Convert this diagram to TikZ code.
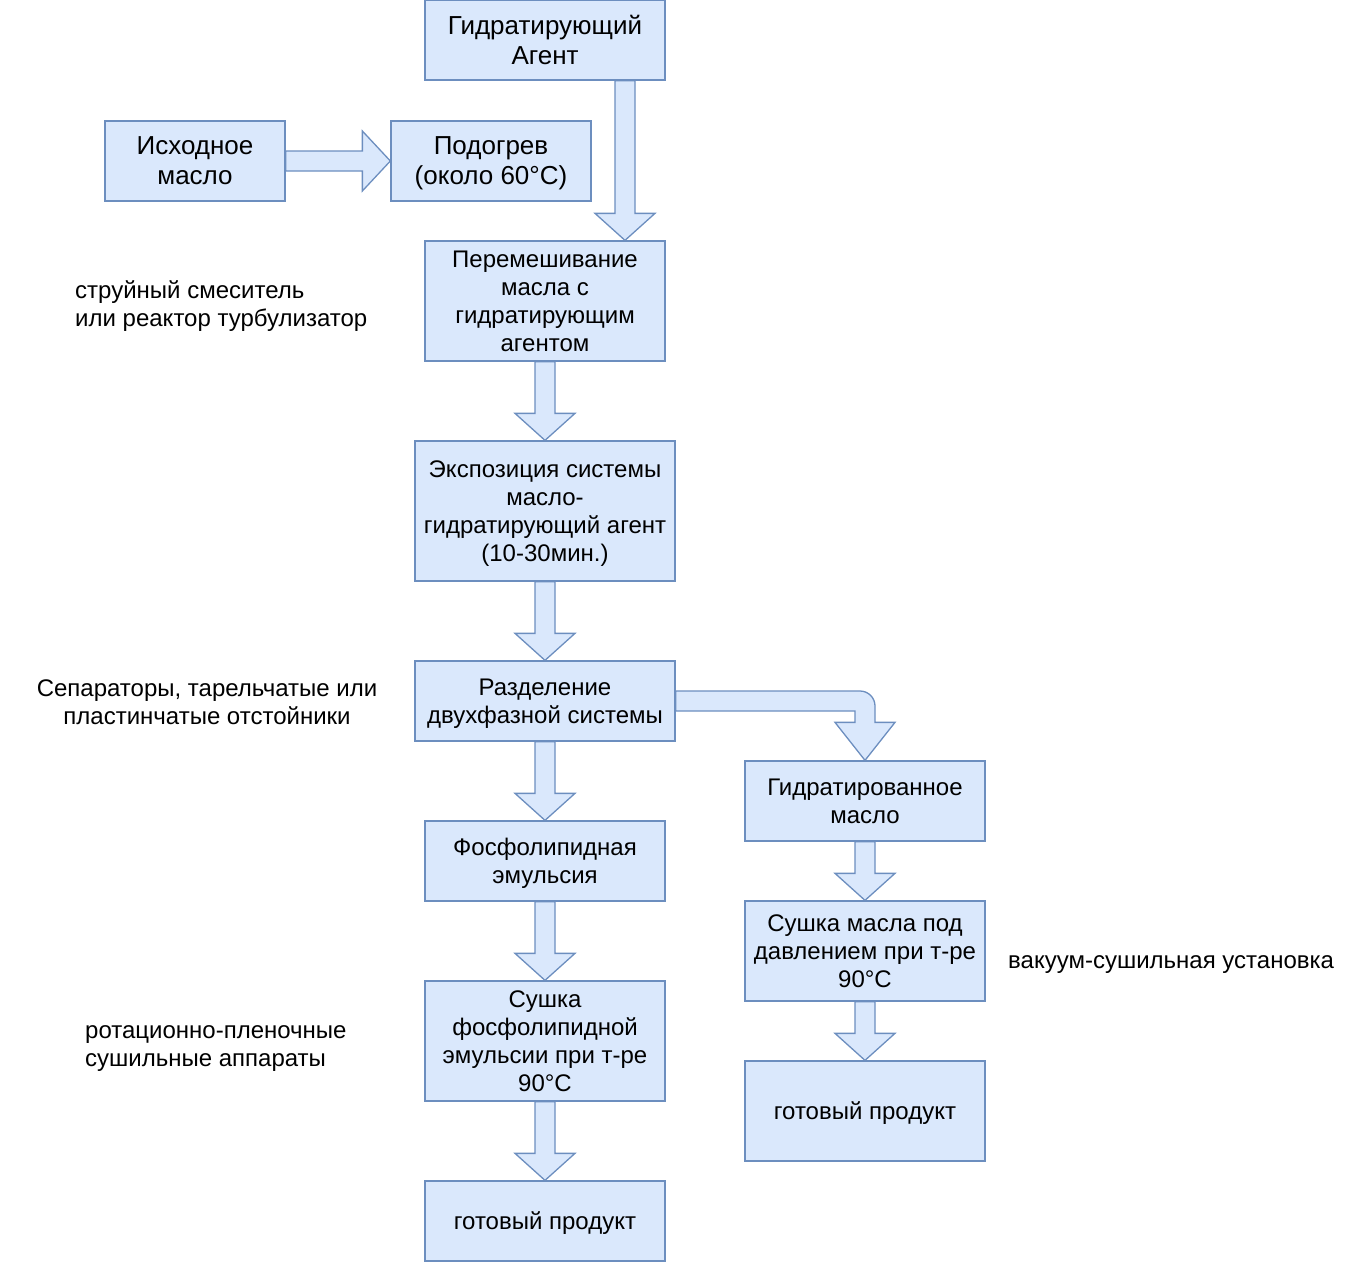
\documentclass[tikz,border=0pt]{standalone}
\usepackage{fontspec}
\setmainfont{Liberation Sans}
\usetikzlibrary{calc}
\definecolor{boxfill}{HTML}{DAE8FC}
\definecolor{boxline}{HTML}{6C8EBF}
\tikzset{box/.style = {draw = boxline, fill = boxfill, line width = 1.3pt, inner sep = 0, align = center, font = \fontsize{24}{28}\selectfont, text depth = -2pt},
  bigbox/.style = {box, font = \fontsize{26}{30}\selectfont, text depth = -7pt},
  note/.style = {inner sep = 0, font = \fontsize{24}{28}\selectfont},
  flow/.style = {draw = boxline, fill = boxfill, line width = 1.3pt, line join = miter}}
% block arrows between two points
\newcommand{\vflow}[2]{\draw [flow] let \p1 = (#1), \p2 = (#2) in
  (\x1-10pt, \y1) -- (\x1+10pt, \y1) -- (\x1+10pt, \y2+27pt) -- (\x1+30pt, \y2+27pt)
  -- (\x1, \y2) -- (\x1-30pt, \y2+27pt) -- (\x1-10pt, \y2+27pt) -- cycle;}
\newcommand{\hflow}[2]{\draw [flow] let \p1 = (#1), \p2 = (#2) in
  (\x1, \y1+10pt) -- (\x2-28pt, \y1+10pt) -- (\x2-28pt, \y1+30pt) -- (\x2, \y1)
  -- (\x2-28pt, \y1-30pt) -- (\x2-28pt, \y1-10pt) -- (\x1, \y1-10pt) -- cycle;}

\begin{document}
\begin{tikzpicture}[x = 1pt, y = -1pt]
    \useasboundingbox (0, 0) rectangle (1366, 1262);

    \node [bigbox, minimum width = 240pt, minimum height = 80pt] (agent) at (545, 40) {Гидратирующий\\Агент};
    \node [bigbox, minimum width = 180pt, minimum height = 80pt] (oil) at (195, 161) {Исходное\\масло};
    \node [bigbox, minimum width = 200pt, minimum height = 80pt] (heat) at (491, 161) {Подогрев\\(около 60°C)};
    \node [box, minimum width = 240pt, minimum height = 120pt] (mix) at (545, 301) {Перемешивание\\масла с\\гидратирующим\\агентом};
    \node [box, minimum width = 260pt, minimum height = 140pt] (expo) at (545, 511) {Экспозиция системы\\масло-\\гидратирующий агент\\(10-30мин.)};
    \node [box, minimum width = 260pt, minimum height = 80pt] (sep) at (545, 701) {Разделение\\двухфазной системы};
    \node [box, minimum width = 240pt, minimum height = 80pt] (emul) at (545, 861) {Фосфолипидная\\эмульсия};
    \node [box, minimum width = 240pt, minimum height = 120pt] (dryph) at (545, 1041) {Сушка\\фосфолипидной\\эмульсии при т-ре\\90°C};
    \node [box, minimum width = 240pt, minimum height = 80pt] (prod1) at (545, 1221) {готовый продукт};
    \node [box, minimum width = 240pt, minimum height = 80pt] (hydr) at (865, 801) {Гидратированное\\масло};
    \node [box, minimum width = 240pt, minimum height = 100pt] (dryoil) at (865, 951) {Сушка масла под\\давлением при т-ре\\90°C};
    \node [box, minimum width = 240pt, minimum height = 100pt] (prod2) at (865, 1111) {готовый продукт};

    \node [note, anchor = west, align = left] (mixnote) at (75, 306) {струйный смеситель\\или реактор турбулизатор};
    \node [note, align = center] (sepnote) at (207, 702) {Сепараторы, тарельчатые или\\пластинчатые отстойники};
    \node [note, anchor = west, align = left] (drynote) at (85, 1049) {ротационно-пленочные\\сушильные аппараты};
    \node [note, anchor = west] (vacnote) at (1008, 965) {вакуум-сушильная установка};

    \vflow{$(agent.south) + (80, 0)$}{$(mix.north) + (80, 0)$}
    \hflow{oil.east}{heat.west}
    \vflow{mix.south}{expo.north}
    \vflow{expo.south}{sep.north}
    \vflow{sep.south}{emul.north}
    \vflow{emul.south}{dryph.north}
    \vflow{dryph.south}{prod1.north}
    \vflow{hydr.south}{dryoil.north}
    \vflow{dryoil.south}{prod2.north}
    % bent arrow to the right branch
    \draw [flow] let \p1 = (sep.east), \p2 = (hydr.north) in
      (\x1, \y1+10pt) -- (\x2-5pt, \y1+10pt) arc [start angle = 90, end angle = 0, radius = 15pt]
      -- (\x2+10pt, \y2+38pt) -- (\x2+30pt, \y2+38pt) -- (\x2, \y2) -- (\x2-30pt, \y2+38pt)
      -- (\x2-10pt, \y2+38pt) -- (\x2-10pt, \y1-10pt) -- (\x1, \y1-10pt) -- cycle;
  \end{tikzpicture}
\end{document}
